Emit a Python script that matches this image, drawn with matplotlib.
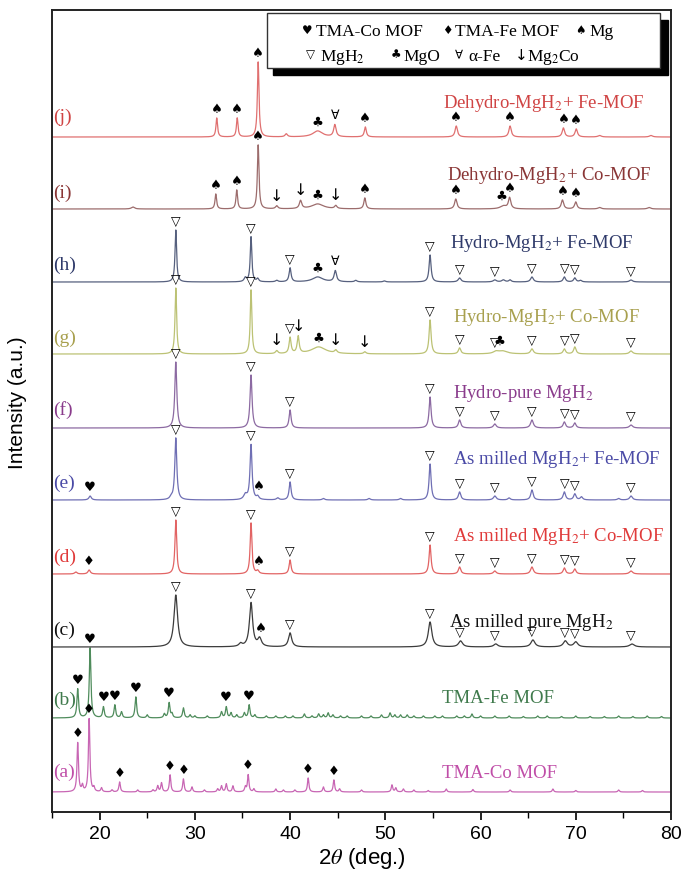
import numpy as np
import matplotlib
matplotlib.use('Agg')
import matplotlib.pyplot as plt
from matplotlib.patches import Rectangle
from matplotlib.ticker import MultipleLocator

plt.rcParams['mathtext.fontset'] = 'stix'

# ---------------- data (2theta in deg., intensity in a.u.) ----------------
tags = ['(a)', '(b)', '(c)', '(d)', '(e)', '(f)', '(g)', '(h)', '(i)', '(j)']
names = ['TMA-Co MOF', 'TMA-Fe MOF', r'As milled pure MgH$_2$',
         r'As milled MgH$_2$+ Co-MOF', r'As milled MgH$_2$+ Fe-MOF',
         r'Hydro-pure MgH$_2$', r'Hydro-MgH$_2$+ Co-MOF',
         r'Hydro-MgH$_2$+ Fe-MOF', r'Dehydro-MgH$_2$+ Co-MOF',
         r'Dehydro-MgH$_2$+ Fe-MOF']
offsets = [20, 94, 165, 238, 312, 384, 458, 530, 603, 675]

pos_a = [17.7, 18.2, 18.9, 19.4, 20.2, 21.3, 22.1, 24.0, 25.6, 26.1, 26.5, 27.4, 28.8, 29.7,
         31.0, 32.4, 32.8, 33.3, 34.0, 35.3, 35.6, 36.2, 38.5, 39.3, 40.5, 41.9, 43.5, 44.6,
         45.2, 47.5, 50.7, 51.1, 51.9, 53.0, 54.5, 56.4, 59.2, 63.1, 67.6, 70.0, 74.5, 77.0]
hgt_a = [49, 6, 73, 4, 4, 2, 10, 2, 2, 6, 9, 17, 13, 5,
         2, 3, 6, 8, 6, 5, 17, 3, 3, 2, 2, 14, 5, 12,
         3, 2, 7, 4, 3, 2, 1.5, 3, 2.5, 2, 3, 1.5, 2, 1.5]
wid_a = [0.18] * len(pos_a)

pos_b = [17.7, 19.0, 20.4, 21.6, 22.3, 23.8, 25.0, 26.8, 27.3, 27.6, 28.8, 29.5, 30.0, 31.3,
         32.8, 33.3, 33.8, 34.4, 35.2, 35.7, 36.3, 37.5, 38.5, 39.5, 40.3, 41.5, 42.3, 43.0,
         43.5, 44.0, 44.5, 45.3, 46.0, 47.5, 48.5, 49.6, 50.5, 51.0, 51.6, 52.3, 53.0, 54.0,
         55.2, 56.0, 57.5, 58.3, 59.1, 60.0, 61.5, 63.0, 64.5, 66.0, 67.0, 68.5, 70.0, 71.5,
         73.0, 74.5, 76.0, 77.5, 79.0]
hgt_b = [29, 70, 11, 13, 6, 21, 3, 4, 15, 4, 10, 3, 2, 2,
         6, 11, 5, 3, 5, 13, 3, 2, 2, 2, 2, 4, 2, 4,
         3, 5, 3, 2, 2, 2, 2, 3, 5, 3, 3, 3, 2, 2,
         2, 2, 2, 2, 4, 2, 2, 2, 1.5, 2, 2, 1.5, 2, 1.5,
         1.5, 2, 1.5, 2, 1.5]
wid_b = [0.2] * len(pos_b)

pos_c = [28.0, 34.8, 35.9, 36.8, 40.0, 54.7, 57.9, 61.6, 65.5, 68.9, 70.0, 75.9]
hgt_c = [52, 3, 44, 8, 14, 25, 6, 3, 7, 6, 5, 3]
wid_c = [0.45, 0.4, 0.4, 0.45, 0.4, 0.45, 0.5, 0.5, 0.5, 0.5, 0.5, 0.6]

pos_d = [17.5, 18.9, 28.0, 35.9, 36.6, 40.0, 54.7, 57.8, 61.5, 65.4, 68.8, 69.9, 75.8]
hgt_d = [2, 4, 54, 51, 3, 14, 29, 7, 3, 7, 6, 5, 3]
wid_d = [0.3, 0.3, 0.22, 0.22, 0.3, 0.25, 0.25, 0.3, 0.35, 0.35, 0.3, 0.3, 0.4]

pos_e = [19.0, 27.5, 28.0, 35.3, 35.9, 36.6, 38.7, 40.0, 43.5, 48.3, 51.6, 54.7, 57.8,
         61.5, 63.0, 65.4, 68.8, 69.9, 70.6, 74.5, 75.8]
hgt_e = [4, 2, 62, 5, 55, 3, 2, 18, 1.5, 1.5, 1.5, 36, 8,
         4, 2, 10, 8, 6, 3, 1.5, 4]
wid_e = [0.3, 0.3, 0.25, 0.4, 0.25, 0.3, 0.3, 0.25, 0.3, 0.3, 0.3, 0.25, 0.3,
         0.35, 0.3, 0.3, 0.3, 0.3, 0.3, 0.3, 0.35]

pos_f = [28.0, 35.9, 40.0, 54.7, 57.8, 61.5, 65.4, 68.8, 69.9, 75.8]
hgt_f = [66, 53, 18, 31, 8, 4, 8, 6, 5, 3]
wid_f = [0.25, 0.25, 0.25, 0.25, 0.3, 0.35, 0.35, 0.3, 0.3, 0.4]

pos_g = [28.0, 35.9, 38.6, 40.0, 40.85, 43.0, 44.8, 47.85, 54.7, 57.8, 61.6, 62.3,
         65.4, 68.8, 69.9, 75.8]
hgt_g = [66, 64, 3, 16, 17, 7, 3, 2, 34, 6, 2, 3, 5, 5, 7, 3]
wid_g = [0.2, 0.2, 0.3, 0.25, 0.25, 1.8, 0.3, 0.3, 0.25, 0.3, 0.6, 1.2,
         0.35, 0.3, 0.3, 0.4]

pos_h = [28.0, 35.3, 35.9, 36.6, 38.6, 40.0, 42.9, 44.75, 46.9, 49.9, 54.7, 57.8,
         61.5, 62.4, 63.1, 65.4, 68.8, 69.9, 70.5, 75.8]
hgt_h = [52, 4, 45, 3, 1.5, 14, 5, 11, 1.5, 1, 27, 4,
         2, 2, 2, 5, 5, 4, 1.5, 2]
wid_h = [0.2, 0.3, 0.2, 0.25, 0.3, 0.25, 1.3, 0.3, 0.3, 0.3, 0.25, 0.35,
         0.4, 0.4, 0.3, 0.35, 0.3, 0.3, 0.3, 0.4]

pos_i = [23.5, 32.2, 34.4, 36.65, 38.6, 41.1, 42.9, 44.8, 47.85, 57.4, 62.4, 63.05,
         68.6, 70.0, 72.5, 77.7]
hgt_i = [2, 15, 19, 64, 3, 8, 5, 3, 11, 10, 3, 11, 9, 7, 1.5, 1.5]
wid_i = [0.4, 0.2, 0.2, 0.2, 0.3, 0.3, 1.5, 0.3, 0.25, 0.3, 0.8, 0.3,
         0.3, 0.3, 0.4, 0.4]

pos_j = [32.3, 34.45, 36.65, 39.6, 42.9, 44.7, 47.9, 57.45, 63.1, 68.7, 70.05, 72.5, 77.9]
hgt_j = [19, 19, 75, 3, 6, 12, 10, 11, 11, 9, 8, 1.5, 1.5]
wid_j = [0.2, 0.2, 0.2, 0.3, 1.2, 0.3, 0.25, 0.3, 0.3, 0.3, 0.3, 0.4, 0.4]

# phase markers (symbol, 2theta)
S, C, H, D, T, A, DN = '\u2660', '\u2663', '\u2665', '\u2666', '\u25bd', '\u2200', '\u2193'
mgh2 = [28.0, 35.9, 40.0, 54.7, 57.8, 61.5, 65.4, 68.8, 69.9, 75.8]
mk_a = [(D, 17.7), (D, 18.9), (D, 22.1), (D, 27.4), (D, 28.8), (D, 35.6), (D, 41.9), (D, 44.6)]
mk_b = [(H, 17.7), (H, 19.0), (H, 20.4), (H, 21.6), (H, 23.8), (H, 27.3), (H, 33.3), (H, 35.7)]
mk_c = [(T, p) for p in mgh2] + [(S, 36.9)]
mk_d = [(T, p) for p in mgh2] + [(S, 36.7), (D, 18.9)]
mk_e = [(T, p) for p in mgh2] + [(S, 36.7), (H, 19.0)]
mk_f = [(T, p) for p in mgh2]
mk_g = [(T, p) for p in mgh2] + [(DN, 38.6), (DN, 40.85), (C, 43.0), (DN, 44.8), (DN, 47.85), (C, 62.0)]
mk_h = [(T, p) for p in mgh2] + [(C, 42.9), (A, 44.75)]
mk_i = [(S, 32.2), (S, 34.4), (S, 36.65), (DN, 38.6), (DN, 41.1), (C, 42.9), (DN, 44.8),
        (S, 47.85), (S, 57.4), (C, 62.2), (S, 63.05), (S, 68.6), (S, 70.0)]
mk_j = [(S, 32.3), (S, 34.45), (S, 36.65), (C, 42.9), (A, 44.7), (S, 47.9), (S, 57.45),
        (S, 63.1), (S, 68.7), (S, 70.05)]

# --------------------------- styling ---------------------------------------
line_colors = ['#c866b4', '#4f8c5c', '#3c3c3c', '#e26464', '#6f6fb4',
               '#8c6aa2', '#bcc274', '#56607e', '#9c6c6c', '#e07070']
text_colors = ['#c04ea8', '#3f7a4c', '#111111', '#e03a3a', '#4a4aa6',
               '#8a3c8c', '#a8a04e', '#2f3a6a', '#8a3636', '#d04444']
tag_dy = [20, 18, 17, 17, 17, 18, 16, 17, 16, 20]
name_x = [56.0, 56.0, 56.7, 57.1, 57.1, 57.1, 57.1, 56.8, 56.5, 56.1]
name_dy = [20, 21, 26, 39, 42, 36, 38, 40, 35, 35]

all_pos = [pos_a, pos_b, pos_c, pos_d, pos_e, pos_f, pos_g, pos_h, pos_i, pos_j]
all_hgt = [hgt_a, hgt_b, hgt_c, hgt_d, hgt_e, hgt_f, hgt_g, hgt_h, hgt_i, hgt_j]
all_wid = [wid_a, wid_b, wid_c, wid_d, wid_e, wid_f, wid_g, wid_h, wid_i, wid_j]
all_mk = [mk_a, mk_b, mk_c, mk_d, mk_e, mk_f, mk_g, mk_h, mk_i, mk_j]

x = np.linspace(15, 80, 6501)


def profile(pos, hgt, wid):
    y = np.zeros_like(x)
    for p, h, w in zip(pos, hgt, wid):
        y += h / (1.0 + ((x - p) / (w / 2.0)) ** 2)
    return y


W, Hh = 683, 874
fig = plt.figure(figsize=(W / 100, Hh / 100), dpi=100)
L, R, TOP, BOT = 52, 671, 10, 812
ax = fig.add_axes([L / W, 1 - BOT / Hh, (R - L) / W, (BOT - TOP) / Hh])
ax.set_xlim(15, 80)
ax.set_ylim(0, BOT - TOP)


def axf(px, py):
    return ((px - L) / (R - L), (BOT - py) / (BOT - TOP))


serif = ['Liberation Serif', 'DejaVu Serif']
symfont = ['DejaVu Sans']

for k in range(10):
    yk = profile(all_pos[k], all_hgt[k], all_wid[k])
    ax.plot(x, offsets[k] + yk, color=line_colors[k], lw=0.9, zorder=2)
    ax.text(15.15, offsets[k] + tag_dy[k], tags[k], color=text_colors[k],
            fontsize=14, family=serif, va='center', ha='left')
    ax.text(name_x[k], offsets[k] + name_dy[k] - 6, names[k], color=text_colors[k],
            fontsize=13.5, family=serif, va='baseline', ha='left')
    for sym, p in all_mk[k]:
        m = (x > p - 0.2) & (x < p + 0.2)
        top = offsets[k] + yk[m].max()
        if sym == C and k in (6, 8) and p > 60:
            top = offsets[k] + 4
        fs = 11.5 if sym == DN else (9 if sym in (T, A) else 9.5)
        ax.text(p, top + 2, sym, fontsize=fs, family=symfont, ha='center',
                va='bottom', color='black', zorder=3)

# axes style
for sp in ax.spines.values():
    sp.set_linewidth(1.4)
    sp.set_color('#222222')
ax.set_yticks([])
ax.xaxis.set_major_locator(MultipleLocator(10))
ax.xaxis.set_minor_locator(MultipleLocator(5))
ax.tick_params(axis='x', which='major', direction='out', length=6, width=1.2,
               labelsize=14, pad=4)
ax.tick_params(axis='x', which='minor', direction='out', length=4, width=1.0)
for lab in ax.get_xticklabels():
    lab.set_family('Liberation Sans')
ax.set_xlabel(r'2$\theta$ (deg.)', fontsize=16, family='Liberation Sans', labelpad=2)
ax.set_ylabel('Intensity (a.u.)', fontsize=15, family='Liberation Sans')
ax.yaxis.set_label_coords(-0.040, 0.51)

# legend box with shadow
x0, y0 = axf(273, 75)
x1, y1 = axf(668, 20)
ax.add_patch(Rectangle((x0, y0), x1 - x0, y1 - y0, transform=ax.transAxes,
                       facecolor='black', edgecolor='black', zorder=5, clip_on=False))
x0, y0 = axf(267, 68)
x1, y1 = axf(660, 13)
ax.add_patch(Rectangle((x0, y0), x1 - x0, y1 - y0, transform=ax.transAxes,
                       facecolor='white', edgecolor='#333333', lw=1.0, zorder=6, clip_on=False))

legend_items = [
    (H, 'TMA-Co MOF', 302, 30, 14), (D, 'TMA-Fe MOF', 442, 30, 13), (S, 'Mg', 575, 30, 14),
    (T, r'MgH$_2$', 306, 55, 14), (C, 'MgO', 391, 55, 12), (A, '\u03b1-Fe', 455, 55, 13),
    (DN, r'Mg$_2$Co', 515, 55, 12),
]
for sym, lab, px, py, gap in legend_items:
    sx, sy = axf(px, py)
    ax.text(sx, sy, sym, transform=ax.transAxes, fontsize=8.5 if sym != DN else 11,
            family=symfont, ha='left', va='center', zorder=7)
    lx, ly = axf(px + gap, py + 6)
    ax.text(lx, ly, lab, transform=ax.transAxes, fontsize=12.5, family=serif,
            ha='left', va='baseline', zorder=7)

fig.savefig('out.png', dpi=100)
